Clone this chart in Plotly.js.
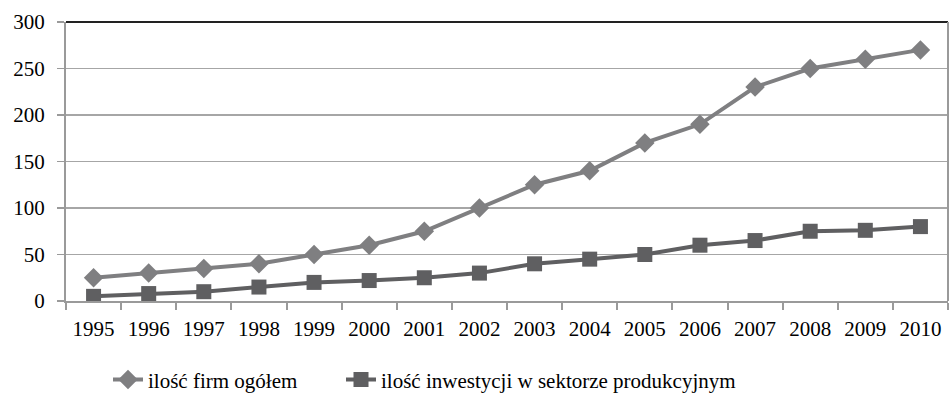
<!DOCTYPE html>
<html>
<head>
<meta charset="utf-8">
<script src="https://cdn.plot.ly/plotly-3.0.1.min.js"></script>
<style>
html,body{margin:0;padding:0;background:#fff;}
#chart{width:950px;height:404px;}
</style>
</head>
<body>
<div id="chart"></div>
<script>
const years = ['1995','1996','1997','1998','1999','2000','2001','2002','2003','2004','2005','2006','2007','2008','2009','2010'];
const firmyOgolem = [25, 30, 35, 40, 50, 60, 75, 100, 125, 140, 170, 190, 230, 250, 260, 270];
const inwestycje = [5, 8, 10, 15, 20, 22, 25, 30, 40, 45, 50, 60, 65, 75, 76, 80];
const seriesNames = ['ilość firm ogółem', 'ilość inwestycji w sektorze produkcyjnym'];

const FONT = "'Liberation Serif', 'Times New Roman', serif";

const traces = [
  {
    x: years, y: firmyOgolem, name: seriesNames[0], type: 'scatter', mode: 'lines+markers',
    line: {color: '#7f7f81', width: 4},
    marker: {symbol: 'diamond', size: 15, color: '#7f7f81'},
    legend: 'legend'
  },
  {
    x: years, y: inwestycje, name: seriesNames[1], type: 'scatter', mode: 'lines+markers',
    line: {color: '#5f5f61', width: 4},
    marker: {symbol: 'square', size: 15, color: '#5f5f61'},
    legend: 'legend2'
  }
];

const legendCommon = {
  orientation: 'h', xanchor: 'left', yref: 'container', y: 0.06, yanchor: 'middle',
  font: {family: FONT, size: 21, color: '#000'},
  bgcolor: 'rgba(0,0,0,0)'
};

const layout = {
  width: 950, height: 404,
  margin: {l: 66, r: 2, t: 22, b: 103},
  paper_bgcolor: '#fff', plot_bgcolor: '#fff',
  font: {family: FONT, size: 21, color: '#000'},
  showlegend: true,
  legend: Object.assign({}, legendCommon, {xref: 'container', x: 108 / 950}),
  legend2: Object.assign({}, legendCommon, {xref: 'container', x: 341 / 950}),
  xaxis: {
    type: 'category', range: [-0.5, 15.5],
    showgrid: false, zeroline: false,
    showline: true, linecolor: '#9a9a9a', linewidth: 2,
    ticks: 'outside', tickson: 'boundaries', ticklen: 7, tickcolor: '#9a9a9a', tickwidth: 2,
    ticklabelstandoff: 8,
    tickfont: {family: FONT, size: 21, color: '#000'}
  },
  yaxis: {
    range: [0, 300], dtick: 50, tick0: 0,
    showgrid: true, gridcolor: '#a6a6a6', gridwidth: 1.5,
    zeroline: false,
    showline: true, linecolor: '#9a9a9a', linewidth: 2,
    ticks: 'outside', ticklen: 7, tickcolor: '#9a9a9a', tickwidth: 1.5,
    ticklabelstandoff: 8,
    tickfont: {family: FONT, size: 21, color: '#000'}
  },
  shapes: [
    {type: 'line', xref: 'paper', yref: 'paper', x0: 0, x1: 1, y0: 1, y1: 1, line: {color: '#222', width: 2}},
    {type: 'line', xref: 'paper', yref: 'paper', x0: 1, x1: 1, y0: 0, y1: 1, line: {color: '#9a9a9a', width: 2}}
  ]
};

Plotly.newPlot('chart', traces, layout, {displayModeBar: false, staticPlot: true});
</script>
</body>
</html>
